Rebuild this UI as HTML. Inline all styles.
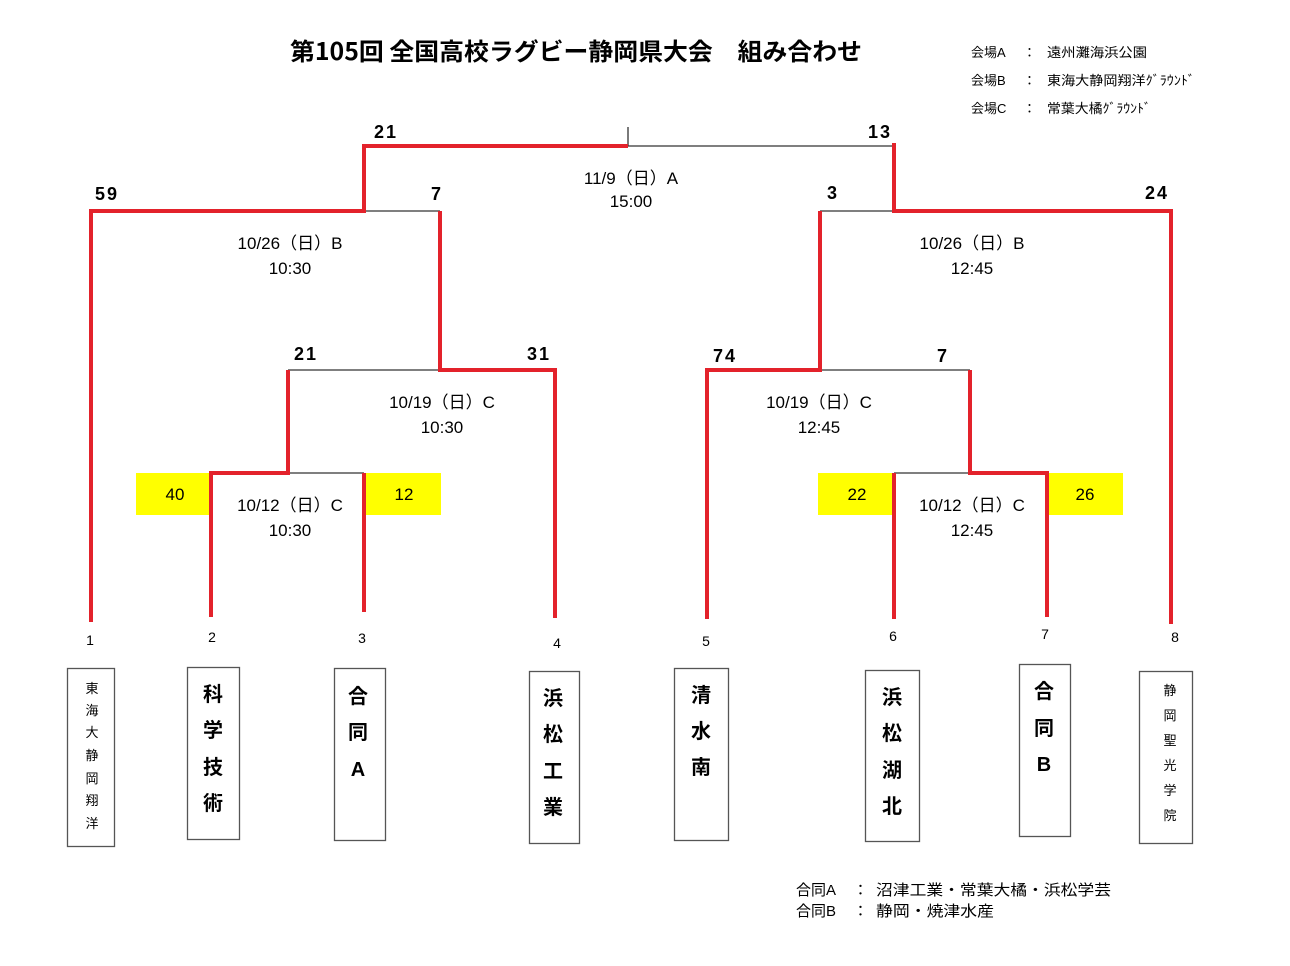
<!DOCTYPE html>
<html><head><meta charset="utf-8"><style>
html,body{margin:0;padding:0;background:#fff;}
svg{display:block;}
text{font-family:"Liberation Sans","Noto Sans CJK JP",sans-serif;fill:#000;}
.cj{font-family:"Noto Sans CJK JP","Liberation Sans",sans-serif;}
</style></head><body>
<svg width="1290" height="966" viewBox="0 0 1290 966" xmlns="http://www.w3.org/2000/svg">
<rect width="1290" height="966" fill="#fff"/>
<!-- title -->
<text x="290" y="60" class="cj" font-size="24" font-weight="bold" textLength="572" lengthAdjust="spacingAndGlyphs">第105回 全国高校ラグビー静岡県大会　組み合わせ</text>
<!-- venues -->
<g class="cj" font-size="13">
<text x="971" y="57">会場A</text><text x="1023" y="57">：</text><text x="1047" y="57" textLength="100" lengthAdjust="spacingAndGlyphs">遠州灘海浜公園</text>
<text x="971" y="85">会場B</text><text x="1023" y="85">：</text><text x="1047" y="85" textLength="148" lengthAdjust="spacingAndGlyphs">東海大静岡翔洋ｸﾞﾗｳﾝﾄﾞ</text>
<text x="971" y="113">会場C</text><text x="1023" y="113">：</text><text x="1047" y="113" textLength="104" lengthAdjust="spacingAndGlyphs">常葉大橘ｸﾞﾗｳﾝﾄﾞ</text>
</g>
<!-- yellow boxes -->
<g fill="#ffff00">
<rect x="136" y="473" width="75" height="42"/>
<rect x="364" y="473" width="77" height="42"/>
<rect x="818" y="473" width="76" height="42"/>
<rect x="1047" y="473" width="76" height="42"/>
</g>
<!-- black lines -->
<g stroke="#333" stroke-width="1.3" fill="none">
<line x1="628" y1="146" x2="894" y2="146"/>
<line x1="628" y1="127" x2="628" y2="146"/>
<line x1="364" y1="211" x2="440" y2="211"/>
<line x1="820" y1="211" x2="894" y2="211"/>
<line x1="288" y1="370" x2="440" y2="370"/>
<line x1="820" y1="370" x2="970" y2="370"/>
<line x1="288" y1="473" x2="364" y2="473"/>
<line x1="894" y1="473" x2="970" y2="473"/>
</g>
<!-- red lines -->
<g stroke="#e3222b" stroke-width="4" fill="none" stroke-linejoin="miter">
<polyline points="628,146 364,146 364,211 91,211 91,622"/>
<polyline points="440,211 440,370 555,370 555,618"/>
<polyline points="288,370 288,473 211,473 211,617"/>
<line x1="364" y1="473" x2="364" y2="612"/>
<polyline points="894,143 894,211 1171,211 1171,624"/>
<polyline points="820,211 820,370 707,370 707,619"/>
<polyline points="970,370 970,473 1047,473 1047,617"/>
<line x1="894" y1="473" x2="894" y2="619"/>
</g>
<!-- scores -->
<g font-size="18" font-weight="bold" text-anchor="middle" letter-spacing="2">
<text x="386" y="138">21</text>
<text x="880" y="138">13</text>
<text x="107" y="200">59</text>
<text x="437" y="200">7</text>
<text x="833" y="199">3</text>
<text x="1157" y="199">24</text>
<text x="306" y="360">21</text>
<text x="539" y="360">31</text>
<text x="725" y="362">74</text>
<text x="943" y="362">7</text>
</g>
<g font-size="17" text-anchor="middle">
<text x="175" y="500">40</text>
<text x="404" y="500">12</text>
<text x="857" y="500">22</text>
<text x="1085" y="500">26</text>
</g>
<!-- dates -->
<g font-size="17" text-anchor="middle" class="cj">
<text x="631" y="184">11/9（日）A</text>
<text x="631" y="207">15:00</text>
<text x="290" y="249">10/26（日）B</text>
<text x="290" y="274">10:30</text>
<text x="972" y="249">10/26（日）B</text>
<text x="972" y="274">12:45</text>
<text x="442" y="408">10/19（日）C</text>
<text x="442" y="433">10:30</text>
<text x="819" y="408">10/19（日）C</text>
<text x="819" y="433">12:45</text>
<text x="290" y="511">10/12（日）C</text>
<text x="290" y="536">10:30</text>
<text x="972" y="511">10/12（日）C</text>
<text x="972" y="536">12:45</text>
</g>
<!-- seed numbers -->
<g font-size="14" text-anchor="middle">
<text x="90" y="645">1</text>
<text x="212" y="642">2</text>
<text x="362" y="643">3</text>
<text x="557" y="648">4</text>
<text x="706" y="646">5</text>
<text x="893" y="641">6</text>
<text x="1045" y="639">7</text>
<text x="1175" y="642">8</text>
</g>
<!-- team boxes -->
<g fill="#fff" stroke="#555" stroke-width="1.3">
<rect x="67.5" y="668.5" width="47" height="178"/>
<rect x="187.5" y="667.5" width="52" height="172"/>
<rect x="334.5" y="668.5" width="51" height="172"/>
<rect x="529.5" y="671.5" width="50" height="172"/>
<rect x="674.5" y="668.5" width="54" height="172"/>
<rect x="865.5" y="670.5" width="54" height="171"/>
<rect x="1019.5" y="664.5" width="51" height="172"/>
<rect x="1139.5" y="671.5" width="53" height="172"/>
</g>
<g class="cj" text-anchor="middle" font-size="13">
<text x="92" y="693">東</text><text x="92" y="715">海</text><text x="92" y="737">大</text><text x="92" y="760">静</text><text x="92" y="783">岡</text><text x="92" y="805">翔</text><text x="92" y="828">洋</text>
<text x="1170" y="695">静</text><text x="1170" y="720">岡</text><text x="1170" y="745">聖</text><text x="1170" y="770">光</text><text x="1170" y="795">学</text><text x="1170" y="820">院</text>
</g>
<g class="cj" text-anchor="middle" font-size="20" font-weight="bold">
<text x="213" y="701">科</text><text x="213" y="737">学</text><text x="213" y="774">技</text><text x="213" y="810">術</text>
<text x="358" y="703">合</text><text x="358" y="739">同</text><text x="358" y="776">A</text>
<text x="553" y="705">浜</text><text x="553" y="741">松</text><text x="553" y="778">工</text><text x="553" y="814">業</text>
<text x="701" y="702">清</text><text x="701" y="738">水</text><text x="701" y="774">南</text>
<text x="892" y="704">浜</text><text x="892" y="740">松</text><text x="892" y="777">湖</text><text x="892" y="813">北</text>
<text x="1044" y="698">合</text><text x="1044" y="735">同</text><text x="1044" y="771">B</text>
</g>
<!-- footer -->
<g class="cj" font-size="15">
<text x="796" y="895">合同A</text><text x="853" y="895">：</text><text x="876" y="895" textLength="235" lengthAdjust="spacingAndGlyphs">沼津工業・常葉大橘・浜松学芸</text>
<text x="796" y="916">合同B</text><text x="853" y="916">：</text><text x="876" y="916" textLength="118" lengthAdjust="spacingAndGlyphs">静岡・焼津水産</text>
</g>
</svg>
</body></html>
